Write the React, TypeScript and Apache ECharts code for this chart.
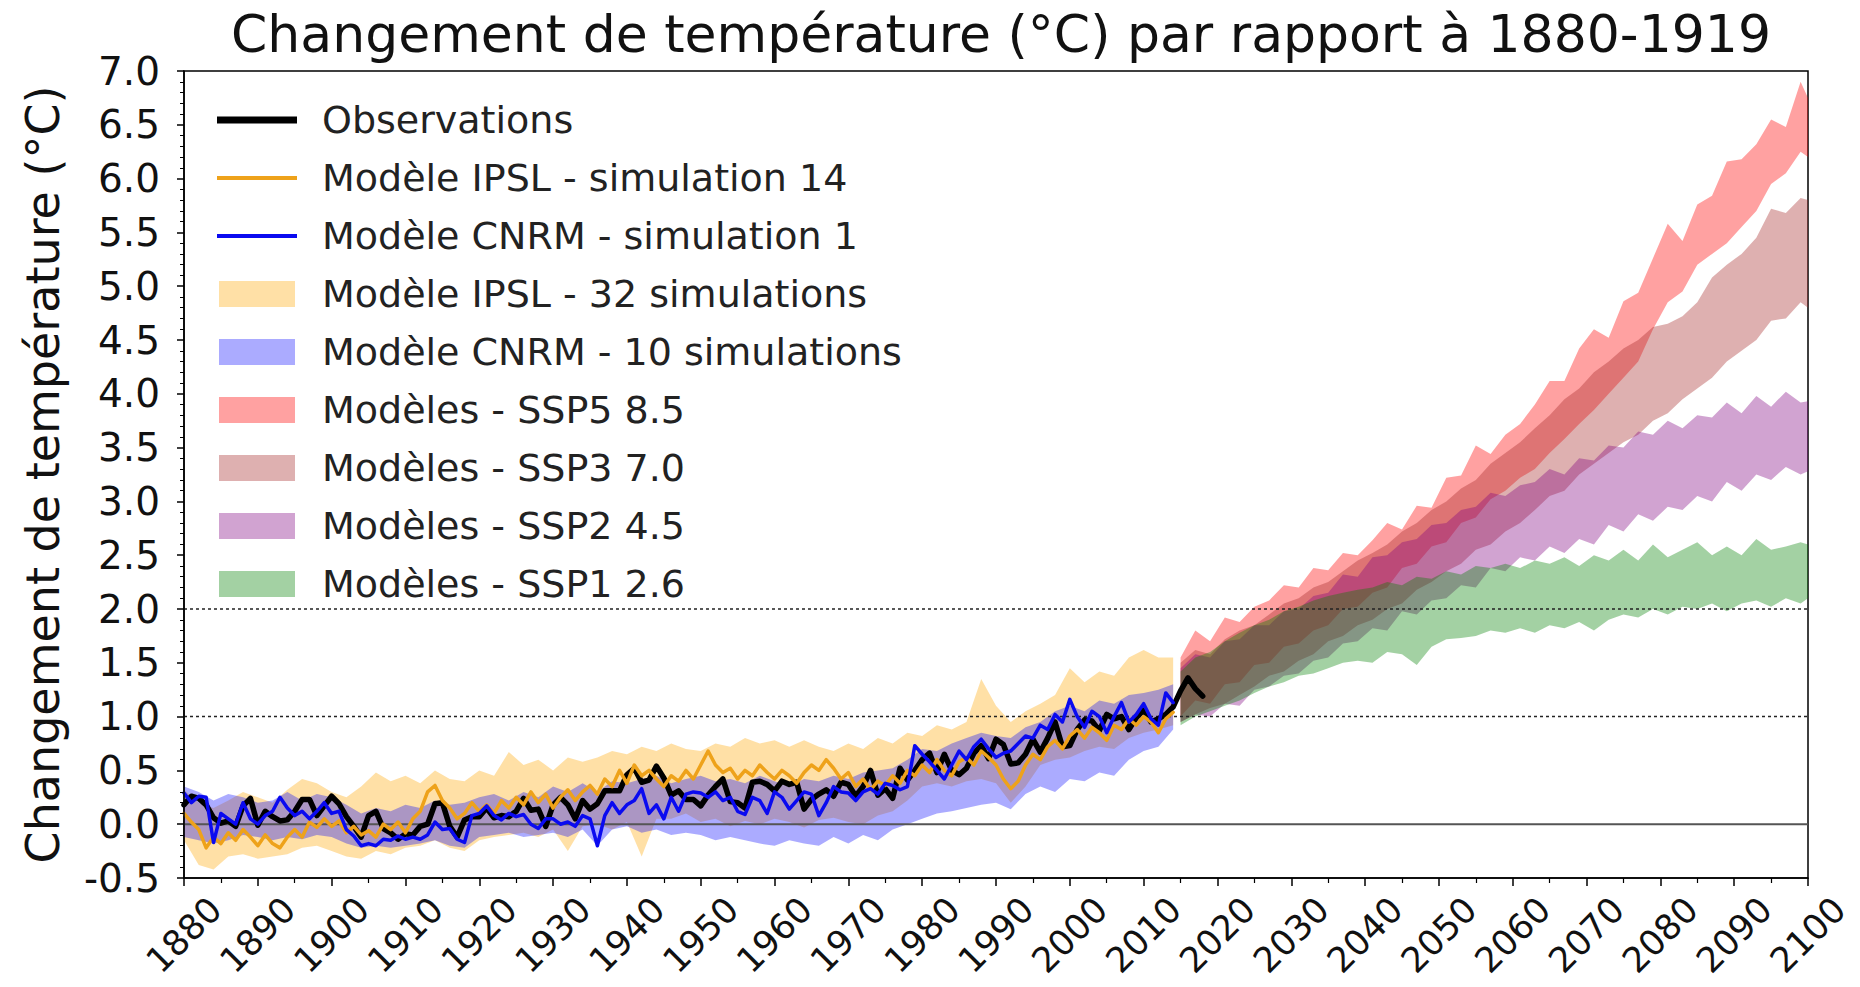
import React, { useEffect, useRef } from 'react';
import * as echarts from 'echarts';

const FONT = 'DejaVu Sans';

// ---- axes ----
const X_MIN = 1880;
const X_MAX = 2100;
const X_STEP = 10;
const Y_MIN = -0.5;
const Y_MAX = 7.0;
const Y_STEP = 0.5;

const TITLE = 'Changement de température (°C) par rapport à 1880-1919';
const Y_NAME = 'Changement de température (°C)';

const NAMES = {
  obs: 'Observations',
  ipsl14: 'Modèle IPSL - simulation 14',
  cnrm1: 'Modèle CNRM - simulation 1',
  ipsl32: 'Modèle IPSL - 32 simulations',
  cnrm10: 'Modèle CNRM - 10 simulations',
  ssp585: 'Modèles - SSP5 8.5',
  ssp370: 'Modèles - SSP3 7.0',
  ssp245: 'Modèles - SSP2 4.5',
  ssp126: 'Modèles - SSP1 2.6',
};

// ---- observations, yearly from 1880 ----
const OBS_START = 1880;
const obsValues = [
  0.18, 0.26, 0.24, 0.18, 0.06, 0.01, 0.03, -0.02, 0.17, 0.24,
  -0.01, 0.12, 0.07, 0.03, 0.04, 0.12, 0.23, 0.23, 0.08, 0.17,
  0.26, 0.19, 0.07, -0.02, -0.12, 0.08, 0.12, -0.04, -0.08, -0.14,
  -0.09, -0.10, -0.02, 0.00, 0.19, 0.20, -0.02, -0.12, 0.04, 0.07,
  0.07, 0.15, 0.06, 0.08, 0.07, 0.12, 0.24, 0.13, 0.14, -0.02,
  0.18, 0.25, 0.18, 0.05, 0.22, 0.14, 0.19, 0.31, 0.31, 0.31,
  0.46, 0.52, 0.39, 0.41, 0.54, 0.43, 0.27, 0.31, 0.23, 0.23,
  0.17, 0.27, 0.35, 0.42, 0.21, 0.20, 0.15, 0.39, 0.40, 0.37,
  0.31, 0.40, 0.37, 0.39, 0.14, 0.23, 0.28, 0.32, 0.26, 0.39,
  0.37, 0.26, 0.35, 0.50, 0.27, 0.33, 0.24, 0.52, 0.41, 0.50,
  0.60, 0.66, 0.48, 0.65, 0.50, 0.46, 0.52, 0.66, 0.73, 0.61,
  0.79, 0.74, 0.56, 0.57, 0.65, 0.79, 0.67, 0.80, 0.95, 0.72,
  0.73, 0.88, 0.97, 0.96, 0.87, 1.02, 0.98, 1.00, 0.88, 0.99,
  1.06, 0.95, 0.98, 1.02, 1.09, 1.24, 1.36, 1.26, 1.19,
];

// ---- single simulations, yearly from 1880 ----
const SIM_START = 1880;
const ipslSim14 = [
  0.10, 0.02, -0.05, -0.22, -0.12, -0.18, -0.08, -0.15, -0.05, -0.12,
  -0.20, -0.10, -0.18, -0.22, -0.12, -0.05, -0.12, 0.02, -0.03, 0.05,
  -0.02, 0.03, -0.08, -0.02, -0.10, -0.06, -0.12, 0.00, -0.05, 0.02,
  -0.08, 0.05, 0.12, 0.30, 0.36, 0.22, 0.15, 0.05, 0.10, 0.20,
  0.12, 0.18, 0.10, 0.22, 0.15, 0.25, 0.18, 0.30, 0.20, 0.28,
  0.15, 0.25, 0.32, 0.22, 0.30, 0.36, 0.28, 0.42, 0.35, 0.50,
  0.38, 0.55, 0.45, 0.50, 0.42, 0.35, 0.45, 0.40, 0.50, 0.42,
  0.55, 0.68, 0.55, 0.48, 0.52, 0.42, 0.50, 0.45, 0.55, 0.48,
  0.42, 0.50, 0.45, 0.38, 0.48, 0.55, 0.50, 0.60, 0.52, 0.42,
  0.48, 0.35, 0.42, 0.32, 0.40, 0.36, 0.45, 0.38, 0.50, 0.45,
  0.55, 0.48, 0.60, 0.50, 0.45, 0.58, 0.62, 0.55, 0.68, 0.62,
  0.55, 0.42, 0.33, 0.40, 0.55, 0.65, 0.60, 0.72, 0.78, 0.70,
  0.82, 0.88, 0.80, 0.90, 0.85, 0.78, 0.92, 0.88, 0.98, 0.92,
  1.00, 0.95, 0.85, 0.98, 1.04,
];
const cnrmSim1 = [
  0.29, 0.20, 0.26, 0.25, -0.17, 0.10, 0.05, 0.00, 0.20, 0.05,
  0.00, 0.08, 0.12, 0.25, 0.15, 0.08, 0.12, 0.05, 0.12, 0.20,
  0.10, 0.12, -0.05, -0.11, -0.20, -0.18, -0.20, -0.14, -0.15, -0.11,
  -0.14, -0.12, -0.14, -0.10, 0.02, -0.05, -0.04, -0.14, -0.17, 0.08,
  0.10, 0.17, 0.08, 0.04, 0.10, 0.07, 0.09, 0.00, -0.04, 0.05,
  0.05, 0.00, 0.02, -0.02, 0.08, 0.05, -0.20, 0.08, 0.20, 0.10,
  0.18, 0.22, 0.33, 0.10, 0.18, 0.05, 0.25, 0.12, 0.28, 0.30,
  0.29, 0.25, 0.30, 0.22, 0.25, 0.12, 0.09, 0.25, 0.22, 0.10,
  0.30, 0.25, 0.14, 0.22, 0.30, 0.28, 0.08, 0.20, 0.35, 0.30,
  0.29, 0.22, 0.30, 0.33, 0.28, 0.38, 0.36, 0.32, 0.35, 0.73,
  0.65, 0.58, 0.50, 0.42, 0.55, 0.68, 0.60, 0.72, 0.79, 0.70,
  0.62, 0.66, 0.68, 0.75, 0.82, 0.80, 0.92, 0.88, 1.02, 0.95,
  1.16, 1.00, 0.90, 1.05, 1.00, 0.85, 1.00, 1.13, 0.95, 1.02,
  1.12, 0.98, 0.92, 1.22, 1.13,
];

// ---- historical ensemble envelopes ----
const histBandYears = [
  1880, 1882, 1884, 1886, 1888, 1890, 1892, 1894, 1896, 1898,
  1900, 1902, 1904, 1906, 1908, 1910, 1912, 1914, 1916, 1918,
  1920, 1922, 1924, 1926, 1928, 1930, 1932, 1934, 1936, 1938,
  1940, 1942, 1944, 1946, 1948, 1950, 1952, 1954, 1956, 1958,
  1960, 1962, 1964, 1966, 1968, 1970, 1972, 1974, 1976, 1978,
  1980, 1982, 1984, 1986, 1988, 1990, 1992, 1994, 1996, 1998,
  2000, 2002, 2004, 2006, 2008, 2010, 2012, 2014,
];
const ipslLow = [
  -0.15, -0.38, -0.42, -0.30, -0.28, -0.32, -0.30, -0.28, -0.22, -0.20,
  -0.25, -0.30, -0.32, -0.25, -0.28, -0.22, -0.20, -0.15, -0.22, -0.25,
  -0.15, -0.12, -0.10, -0.08, -0.12, -0.05, -0.25, -0.02, 0.00, -0.05,
  0.02, -0.30, 0.05, 0.05, 0.10, 0.02, 0.05, -0.02, 0.03, 0.00,
  0.05, 0.02, -0.03, 0.04, 0.06, 0.02, 0.00, 0.08, 0.12, 0.22,
  0.35, 0.38, 0.35, 0.40, 0.42, 0.38, 0.20, 0.35, 0.55, 0.60,
  0.62, 0.68, 0.72, 0.70, 0.80, 0.85, 0.88, 0.92,
];
const ipslHigh = [
  0.32, 0.20, 0.15, 0.22, 0.30, 0.25, 0.20, 0.32, 0.42, 0.38,
  0.30, 0.25, 0.35, 0.48, 0.40, 0.45, 0.38, 0.50, 0.42, 0.40,
  0.50, 0.45, 0.67, 0.55, 0.60, 0.50, 0.62, 0.58, 0.62, 0.68,
  0.65, 0.72, 0.68, 0.75, 0.70, 0.68, 0.75, 0.72, 0.80, 0.75,
  0.78, 0.72, 0.78, 0.72, 0.68, 0.75, 0.70, 0.80, 0.75, 0.85,
  0.82, 0.92, 0.88, 0.95, 1.35, 1.10, 0.95, 1.05, 1.12, 1.20,
  1.45, 1.32, 1.42, 1.38, 1.55, 1.62, 1.55, 1.55,
];
const cnrmLow = [
  -0.12, -0.15, -0.18, -0.15, -0.10, -0.12, -0.15, -0.12, -0.14, -0.10,
  -0.12, -0.18, -0.22, -0.20, -0.22, -0.20, -0.18, -0.15, -0.20, -0.22,
  -0.12, -0.10, -0.08, -0.12, -0.10, -0.08, -0.12, -0.05, -0.20, -0.05,
  -0.02, -0.08, -0.05, -0.10, -0.08, -0.10, -0.15, -0.12, -0.15, -0.18,
  -0.20, -0.15, -0.18, -0.20, -0.12, -0.18, -0.10, -0.15, -0.05, 0.00,
  0.05, 0.10, 0.12, 0.15, 0.18, 0.20, 0.14, 0.28, 0.35, 0.30,
  0.42, 0.40, 0.48, 0.45, 0.60, 0.68, 0.72, 0.88,
];
const cnrmHigh = [
  0.35, 0.30, 0.22, 0.28, 0.25, 0.20, 0.22, 0.30, 0.22, 0.28,
  0.25, 0.18, 0.10, 0.15, 0.12, 0.18, 0.15, 0.22, 0.18, 0.20,
  0.25, 0.28, 0.22, 0.30, 0.25, 0.35, 0.30, 0.38, 0.30, 0.40,
  0.38, 0.42, 0.45, 0.38, 0.42, 0.45, 0.40, 0.42, 0.38, 0.45,
  0.40, 0.35, 0.42, 0.40, 0.45, 0.42, 0.48, 0.50, 0.52, 0.60,
  0.70, 0.68, 0.75, 0.80, 0.85, 0.82, 0.80, 0.90, 0.95, 1.05,
  1.10, 1.05, 1.15, 1.12, 1.20, 1.22, 1.25, 1.30,
];

// ---- scenario envelopes ----
const sspYears = [
  2015, 2017, 2019, 2021, 2023, 2025, 2027, 2029, 2031, 2033,
  2035, 2037, 2039, 2041, 2043, 2045, 2047, 2049, 2051, 2053,
  2055, 2057, 2059, 2061, 2063, 2065, 2067, 2069, 2071, 2073,
  2075, 2077, 2079, 2081, 2083, 2085, 2087, 2089, 2091, 2093,
  2095, 2097, 2099, 2100,
];
const ssp585Low = [
  1.00, 1.15, 1.12, 1.30, 1.32, 1.48, 1.50, 1.65, 1.68, 1.80,
  1.85, 2.00, 2.02, 2.15, 2.20, 2.38, 2.42, 2.58, 2.62, 2.80,
  2.85, 3.02, 3.10, 3.22, 3.30, 3.45, 3.58, 3.72, 3.85, 4.00,
  4.15, 4.30, 4.60, 4.85, 4.95, 5.20, 5.30, 5.40, 5.55, 5.70,
  5.95, 6.05, 6.25, 6.20,
];
const ssp585High = [
  1.55, 1.80, 1.70, 1.92, 1.88, 2.02, 2.08, 2.22, 2.20, 2.38,
  2.36, 2.52, 2.50, 2.64, 2.80, 2.74, 2.96, 2.94, 3.22, 3.24,
  3.52, 3.44, 3.62, 3.72, 3.90, 4.12, 4.12, 4.42, 4.60, 4.52,
  4.86, 4.94, 5.26, 5.58, 5.42, 5.76, 5.84, 6.16, 6.18, 6.32,
  6.55, 6.48, 6.90, 6.75,
];
const ssp370Low = [
  0.95, 1.02, 1.08, 1.12, 1.20, 1.28, 1.38, 1.42, 1.52, 1.58,
  1.70, 1.75, 1.85, 1.90, 2.00, 2.05, 2.18, 2.25, 2.35, 2.42,
  2.55, 2.60, 2.72, 2.80, 2.92, 3.05, 3.10, 3.25, 3.35, 3.45,
  3.55, 3.62, 3.75, 3.82, 3.95, 4.05, 4.15, 4.30, 4.40, 4.50,
  4.68, 4.70, 4.85, 4.80,
];
const ssp370High = [
  1.50, 1.62, 1.58, 1.72, 1.80, 1.85, 1.95, 2.05, 2.10, 2.20,
  2.25, 2.35, 2.45, 2.52, 2.60, 2.72, 2.80, 2.92, 3.00, 3.12,
  3.20, 3.35, 3.45, 3.55, 3.68, 3.80, 3.95, 4.05, 4.20, 4.30,
  4.42, 4.50, 4.62, 4.65, 4.72, 4.85, 5.08, 5.20, 5.30, 5.45,
  5.72, 5.68, 5.82, 5.80,
];
const ssp245Low = [
  0.95, 1.02, 1.00, 1.12, 1.10, 1.25, 1.28, 1.38, 1.40, 1.52,
  1.55, 1.68, 1.70, 1.82, 1.80, 1.98, 1.95, 2.08, 2.10, 2.22,
  2.20, 2.38, 2.35, 2.48, 2.45, 2.58, 2.52, 2.65, 2.60, 2.78,
  2.72, 2.88, 2.82, 2.95, 2.92, 3.05, 3.00, 3.18, 3.10, 3.25,
  3.20, 3.32, 3.25, 3.28,
];
const ssp245High = [
  1.45, 1.58, 1.55, 1.70, 1.72, 1.85, 1.85, 1.98, 2.00, 2.12,
  2.15, 2.32, 2.30, 2.48, 2.50, 2.62, 2.65, 2.78, 2.80, 2.92,
  2.95, 3.08, 3.05, 3.15, 3.18, 3.30, 3.25, 3.40, 3.38, 3.52,
  3.50, 3.65, 3.62, 3.75, 3.68, 3.80, 3.78, 3.92, 3.82, 3.98,
  3.88, 4.02, 3.92, 3.93,
];
const ssp126Low = [
  0.92, 1.00, 1.05, 1.10, 1.15, 1.22, 1.28, 1.32, 1.38, 1.40,
  1.45, 1.50, 1.52, 1.50, 1.60, 1.58, 1.48, 1.65, 1.72, 1.73,
  1.75, 1.80, 1.78, 1.82, 1.78, 1.85, 1.82, 1.88, 1.80, 1.90,
  1.95, 1.92, 2.00, 1.95, 2.02, 2.00, 2.05, 1.98, 2.05, 2.08,
  2.02, 2.10, 2.05, 2.10,
];
const ssp126High = [
  1.42, 1.55, 1.60, 1.70, 1.78, 1.85, 1.90, 1.98, 2.02, 2.08,
  2.12, 2.15, 2.18, 2.20, 2.25, 2.22, 2.30, 2.28, 2.35, 2.32,
  2.40, 2.38, 2.42, 2.38, 2.45, 2.42, 2.48, 2.40, 2.50, 2.45,
  2.55, 2.45, 2.60, 2.48, 2.55, 2.62, 2.50, 2.58, 2.50, 2.65,
  2.55, 2.58, 2.62, 2.60,
];

// reference horizontal levels
const solidLevels = [0];
const dottedLevels = [1, 2];

const C = {
  obs: '#000000',
  ipsl: '#EEA21A',
  cnrm: '#0a0af0',
  ipslBand: 'rgba(255,165,0,0.35)',
  cnrmBand: 'rgba(0,0,255,0.33)',
  ssp585: 'rgba(255,0,0,0.37)',
  ssp370: 'rgba(165,42,42,0.37)',
  ssp245: 'rgba(128,0,128,0.36)',
  ssp126: 'rgba(0,128,0,0.36)',
};

function bandSeries(name: string, years: number[], low: number[], high: number[], color: string) {
  return {
    name,
    type: 'custom',
    silent: true,
    z: 1,
    itemStyle: { color },
    data: years.map((y, i) => [y, low[i], high[i]]),
    encode: { x: 0, y: [1, 2] },
    renderItem: (params: any, api: any) => {
      if (params.dataIndex !== 0) return null;
      const pts: number[][] = [];
      for (let i = 0; i < years.length; i++) pts.push(api.coord([years[i], high[i]]));
      for (let i = years.length - 1; i >= 0; i--) pts.push(api.coord([years[i], low[i]]));
      return { type: 'polygon', shape: { points: pts }, style: { fill: color } };
    },
  };
}

function lineSeries(name: string, start: number, values: number[], color: string, width: number) {
  return {
    name,
    type: 'line',
    z: 3,
    silent: true,
    symbol: 'none',
    showSymbol: false,
    data: values.map((v, i) => [start + i, v]),
    itemStyle: { color },
    lineStyle: { color, width, join: 'round', cap: 'round' },
  };
}

function refSeries(level: number, dotted: boolean) {
  return {
    type: 'line',
    z: 2,
    silent: true,
    symbol: 'none',
    showSymbol: false,
    data: [[X_MIN, level], [X_MAX, level]],
    lineStyle: dotted
      ? { color: '#222', width: 1.5, type: [3, 3] }
      : { color: '#555', width: 2 },
  };
}

const LINE_ICON_THICK = 'path://M0,0H80V7H0Z';
const LINE_ICON = 'path://M0,0H80V4H0Z';
const PATCH_ICON = 'path://M0,0H76V26H0Z';

export default function App() {
  const ref = useRef<HTMLDivElement>(null);
  useEffect(() => {
    if (!ref.current) return;
    const chart = echarts.init(ref.current, null, { renderer: 'svg' });
    const option: any = {
      animation: false,
      backgroundColor: '#ffffff',
      textStyle: { fontFamily: FONT },
      title: {
        text: TITLE,
        left: 996,
        top: 3,
        textAlign: 'center',
        textStyle: { fontFamily: FONT, fontSize: 52, fontWeight: 'normal', color: '#111' },
      },
      legend: {
        orient: 'vertical',
        left: 212,
        top: 95,
        itemWidth: 80,
        itemHeight: 26,
        itemGap: 18,
        selectedMode: false,
        itemStyle: { borderWidth: 0 },
        textStyle: { fontFamily: FONT, fontSize: 38, color: '#222', lineHeight: 40, padding: [0, 0, 0, 20] },
        data: [
          { name: NAMES.obs, icon: LINE_ICON_THICK, itemStyle: { color: C.obs } },
          { name: NAMES.ipsl14, icon: LINE_ICON, itemStyle: { color: C.ipsl } },
          { name: NAMES.cnrm1, icon: LINE_ICON, itemStyle: { color: C.cnrm } },
          { name: NAMES.ipsl32, icon: PATCH_ICON, itemStyle: { color: C.ipslBand } },
          { name: NAMES.cnrm10, icon: PATCH_ICON, itemStyle: { color: C.cnrmBand } },
          { name: NAMES.ssp585, icon: PATCH_ICON, itemStyle: { color: C.ssp585 } },
          { name: NAMES.ssp370, icon: PATCH_ICON, itemStyle: { color: C.ssp370 } },
          { name: NAMES.ssp245, icon: PATCH_ICON, itemStyle: { color: C.ssp245 } },
          { name: NAMES.ssp126, icon: PATCH_ICON, itemStyle: { color: C.ssp126 } },
        ],
      },
      grid: {
        left: 184,
        right: 52,
        top: 71,
        bottom: 109,
        show: true,
        borderColor: '#000',
        borderWidth: 1.5,
        backgroundColor: 'transparent',
        outerBoundsMode: 'none',
      },
      xAxis: {
        type: 'value',
        min: X_MIN,
        max: X_MAX,
        interval: X_STEP,
        z: 10,
        axisLine: { show: true, onZero: false, lineStyle: { color: '#000', width: 1.5 } },
        axisTick: { show: true, length: 8, lineStyle: { color: '#000', width: 1.5 } },
        minorTick: { show: true, splitNumber: 2, length: 5, lineStyle: { color: '#000', width: 1.2 } },
        splitLine: { show: false },
        minorSplitLine: { show: false },
        axisLabel: {
          rotate: 45,
          align: 'center',
          verticalAlign: 'middle',
          margin: 57,
          fontSize: 35,
          color: '#111',
          fontFamily: FONT,
          formatter: (v: number) => String(v),
        },
      },
      yAxis: {
        type: 'value',
        min: Y_MIN,
        max: Y_MAX,
        interval: Y_STEP,
        z: 10,
        name: Y_NAME,
        nameLocation: 'middle',
        nameGap: 118,
        nameRotate: 90,
        nameTextStyle: { fontFamily: FONT, fontSize: 46, color: '#111' },
        axisLine: { show: true, onZero: false, lineStyle: { color: '#000', width: 1.5 } },
        axisTick: { show: true, length: 7, lineStyle: { color: '#000', width: 1.5 } },
        minorTick: { show: true, splitNumber: 5, length: 4, lineStyle: { color: '#000', width: 1 } },
        splitLine: { show: false },
        minorSplitLine: { show: false },
        axisLabel: {
          fontSize: 39,
          margin: 24,
          color: '#111',
          fontFamily: FONT,
          formatter: (v: number) => v.toFixed(1),
        },
      },
      series: [
        bandSeries(NAMES.ipsl32, histBandYears, ipslLow, ipslHigh, C.ipslBand),
        bandSeries(NAMES.cnrm10, histBandYears, cnrmLow, cnrmHigh, C.cnrmBand),
        bandSeries(NAMES.ssp585, sspYears, ssp585Low, ssp585High, C.ssp585),
        bandSeries(NAMES.ssp370, sspYears, ssp370Low, ssp370High, C.ssp370),
        bandSeries(NAMES.ssp245, sspYears, ssp245Low, ssp245High, C.ssp245),
        bandSeries(NAMES.ssp126, sspYears, ssp126Low, ssp126High, C.ssp126),
        ...solidLevels.map((l) => refSeries(l, false)),
        ...dottedLevels.map((l) => refSeries(l, true)),
        lineSeries(NAMES.obs, OBS_START, obsValues, C.obs, 5.5),
        lineSeries(NAMES.ipsl14, SIM_START, ipslSim14, C.ipsl, 3.5),
        lineSeries(NAMES.cnrm1, SIM_START, cnrmSim1, C.cnrm, 3.5),
      ],
    };
    chart.setOption(option);
    return () => chart.dispose();
  }, []);
  return (
    <div
      ref={ref}
      style={{ position: 'absolute', left: 0, top: 0, width: 1860, height: 987, background: '#fff' }}
    />
  );
}
